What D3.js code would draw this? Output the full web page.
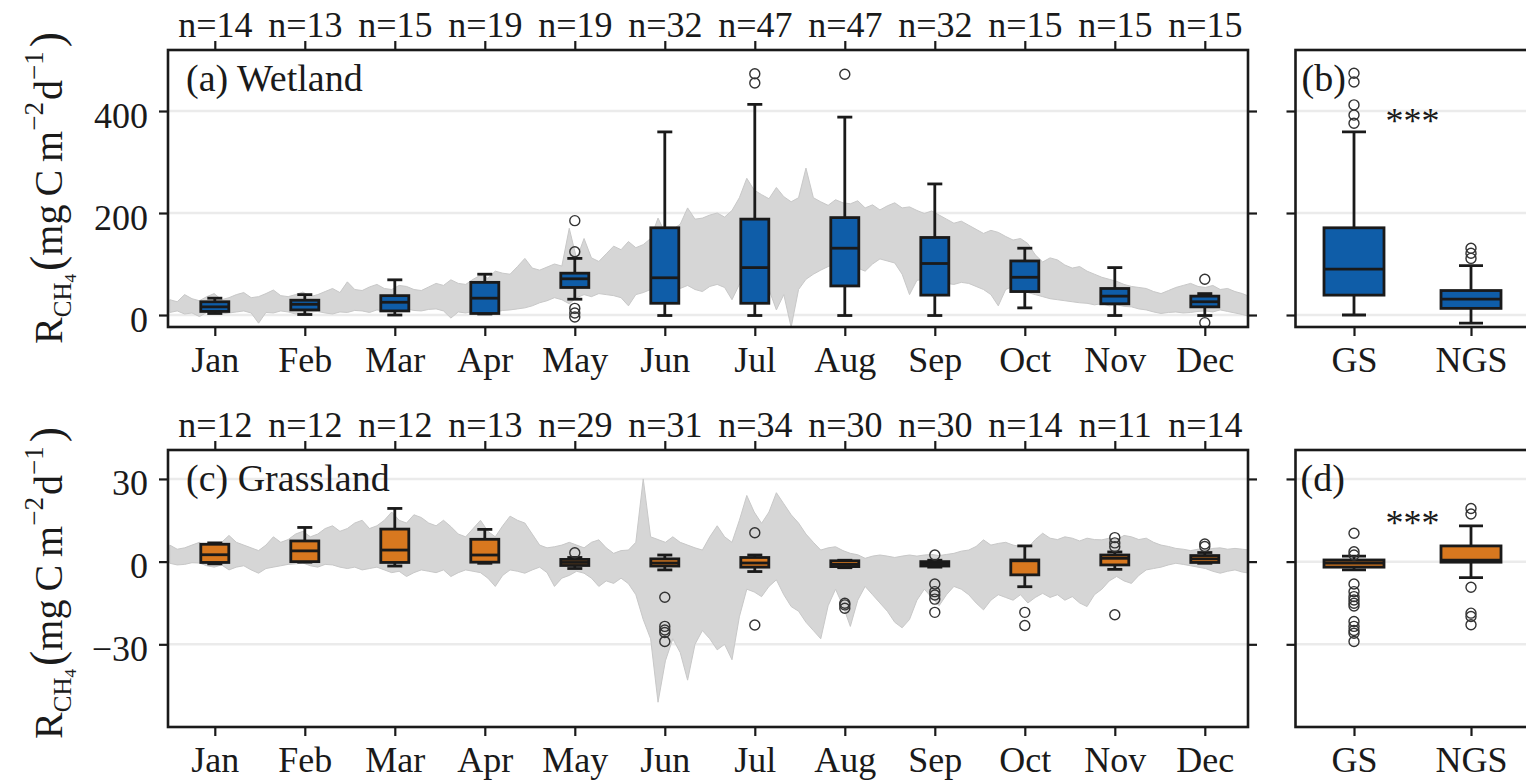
<!DOCTYPE html>
<html>
<head>
<meta charset="utf-8">
<script src="https://cdn.jsdelivr.net/npm/d3@7"></script>
<style>
  body { margin: 0; background: #fff; }
  text { font-family: "Liberation Serif", "DejaVu Serif", serif; fill: #1a1a1a; }
</style>
</head>
<body>
<svg id="fig" width="1526" height="781"></svg>
<script>
// ---- data ----
var months = ["Jan", "Feb", "Mar", "Apr", "May", "Jun", "Jul", "Aug", "Sep", "Oct", "Nov", "Dec"];
var seasons = ["GS", "NGS"];

var wetN = [14, 13, 15, 19, 19, 32, 47, 47, 32, 15, 15, 15];
var grassN = [12, 12, 12, 13, 29, 31, 34, 30, 30, 14, 11, 14];

// [whisker low, q1, median, q3, whisker high]
var wetStats = [
  [3, 7, 16, 26, 33], [1, 10, 21, 29, 40], [0, 8, 25, 38, 69], [2, 3, 33, 64, 80],
  [31, 54, 71, 82, 111], [-1, 23, 73, 171, 359], [-1, 23, 93, 188, 413], [-1, 57, 131, 191, 388],
  [-1, 39, 101, 152, 257], [14, 46, 74, 106, 131], [-1, 22, 37, 52, 93], [-1, 16, 26, 37, 42]
];
var wetFliers = [[], [], [], [], [185, 124, 13, 4, -4], [], [473, 455], [472], [], [], [], [70, -15]];

var grassStats = [
  [-0.8, -0.3, 2.5, 6.3, 6.8], [-0.2, 0, 3.9, 7.5, 12.4], [-1.6, -0.3, 4.2, 11.8, 19.3], [-0.6, -0.2, 2.4, 8.1, 11.7],
  [-2.5, -1.4, -0.3, 0.8, 1.5], [-3, -1.6, -0.5, 1, 2.4], [-3.6, -2, -0.5, 1.5, 2.4], [-2.2, -1.8, -1, 0.3, 0.5],
  [-2, -1.6, -0.8, 0, 0.5], [-9.1, -4.8, 0.3, 0.6, 5.7], [-2.8, -1.2, 1.2, 2.4, 3.5], [-0.6, -0.3, 1, 2.2, 3.3]
];
var grassFliers = [[], [], [], [], [3.2], [-12.9, -23.5, -24.8, -25.7, -29], [10.5, -23], [-15.1, -15.7, -16.9],
  [2.4, -8.1, -10.9, -12.1, -13.6, -18.4], [-18.4, -23.2], [8.7, 6.8, 5.4, -19.3], [6.4, 5.5]];

var wetSeasonStats = [[0, 39, 90, 171, 359], [-16, 13, 31, 48, 97]];
var wetSeasonFliers = [[474, 457, 412, 392, 376], [131, 121, 111]];
var grassSeasonStats = [[-3, -2, -0.5, 0.6, 2], [-5.8, -0.2, 0.5, 5.7, 13]];
var grassSeasonFliers = [[10.3, 3.6, 2.4, -8.1, -10.9, -12.7, -13.9, -15.1, -16.1, -21.7, -23.5, -25, -26, -29],
  [19.3, 17.3, -9.3, -18.7, -19.9, -22.9]];

// daily envelope (grey band), sampled by day of year
var bandDays = [0, 2.5, 5, 7.5, 10, 12.5, 15, 17.5, 20, 22.5, 25, 27.5, 30, 32.5, 35, 37.5, 40, 42.5, 45, 47.5,
  50, 52.5, 55, 57.5, 60, 62.5, 65, 67.5, 70, 72.5, 75, 77.5, 80, 82.5, 85, 87.5, 90, 92.5, 95, 97.5,
  100, 102.5, 105, 107.5, 110, 112.5, 115, 117.5, 120, 122.5, 125, 127.5, 130, 132.5, 135, 137.5, 140, 142.5, 145, 147.5,
  150, 152.5, 155, 157.5, 160, 162.5, 165, 167.5, 170, 172.5, 175, 177.5, 180, 182.5, 185, 187.5, 190, 192.5, 195, 197.5,
  200, 202.5, 205, 207.5, 210, 212.5, 215, 217.5, 220, 222.5, 225, 227.5, 230, 232.5, 235, 237.5, 240, 242.5, 245, 247.5,
  250, 252.5, 255, 257.5, 260, 262.5, 265, 267.5, 270, 272.5, 275, 277.5, 280, 282.5, 285, 287.5, 290, 292.5, 295, 297.5,
  300, 302.5, 305, 307.5, 310, 312.5, 315, 317.5, 320, 322.5, 325, 327.5, 330, 332.5, 335, 337.5, 340, 342.5, 345, 347.5,
  350, 352.5, 355, 357.5, 360, 362.5, 365];
var wetBandHi = [30, 26, 40, 32, 28, 36, 42, 30, 34, 40, 44, 34, 36, 42, 49, 38, 36, 40, 45, 36,
  40, 46, 52, 44, 65, 50, 48, 55, 60, 52, 50, 58, 56, 50, 48, 55, 62, 58, 69, 62,
  60, 70, 78, 72, 86, 82, 80, 95, 111, 92, 88, 94, 100, 96, 170, 110, 150, 112, 105, 120,
  135, 128, 144, 132, 138, 150, 190, 160, 168, 178, 210, 188, 190, 196, 200, 192, 205, 230, 268, 245,
  236, 228, 250, 232, 222, 230, 288, 230, 222, 215, 226, 220, 218, 224, 210, 216, 206, 214, 220, 210,
  212, 205, 199, 204, 196, 188, 180, 184, 176, 168, 160, 166, 162, 154, 147, 150, 140, 118, 104, 112,
  108, 98, 92, 95, 86, 80, 74, 70, 66, 60, 56, 54, 52, 46, 42, 48, 54, 58, 62, 56,
  54, 58, 50, 52, 46, 42, 36];
var wetBandLo = [5, 8, 2, 4, -3, 5, 6, 2, 4, 6, 8, 4, -16, 5, 4, 8, 6, 2, 3, 6,
  7, 4, 2, 6, 5, 9, 8, 5, 10, 8, 6, 10, 12, 9, 8, 11, 12, 8, -6, 6,
  4, 7, 8, 4, 6, 9, 10, 12, 14, 18, 24, 28, 34, 30, 22, 34, 40, 36, 42, 40,
  38, 34, 18, 40, 44, 50, 54, 48, 40, 52, 58, 50, 46, 56, 60, 54, 30, 60, 66, 62,
  60, 50, 10, 40, -24, 50, 70, 80, 88, 95, 100, 94, 90, 92, 86, 100, 110, 106, 102, 80,
  40, 68, 70, 64, 66, 62, 60, 64, 62, 56, 50, 40, 18, 50, 56, 48, 44, 40, 36, 32,
  30, 28, 26, 24, 23, 20, 22, 18, 20, 17, 16, 12, 10, 6, 3, 5, 6, 4, 5, 7,
  8, 6, 10, 7, 4, 1, -3];
var grassBandHi = [6, 4.5, 5, 6, 7, 4.5, 5, 7, 9.5, 7, 6, 5, 4, 6, 9, 7, 8, 10, 11, 9,
  10, 12, 13, 11, 12, 14, 15, 12, 13, 15, 18, 15, 14, 17, 16, 14, 13, 15, 12.7, 10,
  9, 12, 15, 11, 9, 13, 16.5, 15, 14, 10, 6, 5, 5.4, 6, 7, 6, 5, 7, 7.9, 5,
  3, 4, 4.2, 7, 30, 9, 8, 7, 9, 7, 6, 5, 4.2, 9, 13, 9, 7, 15, 24, 18,
  13.9, 18, 25, 21, 17, 14, 10, 7, 4.2, 5, 5.4, 4, 3, 2.5, 1.2, 2, 2.4, 2, 1.5, 2,
  2.4, 2, 2.4, 2.6, 2.2, 2.6, 3, 3.8, 4.2, 5.5, 7.9, 6, 6.6, 7, 6, 5.5, 5, 8, 10.3, 8.5,
  8, 9, 8.5, 7.5, 8.5, 8, 7.9, 8.5, 8, 9.5, 9, 8, 8.5, 7, 6, 5.5, 4.8, 4.5, 4, 4.5,
  4.2, 4.8, 5, 4.5, 4.8, 4.5, 4.2];
var grassBandLo = [-0.6, -1.2, -1, -0.4, -0.5, -1.5, -2, -1.2, -3, -2, -1.5, -3, -4.2, -2.5, -2, -1.5, -1, -0.8, -0.5, -1.5,
  -2, -1, -1.2, -2, -2.5, -2, -3, -2.5, -2, -3, -4, -3.5, -5.4, -4, -3, -3.5, -4, -3, -5.4, -4,
  -3, -3.5, -4, -6, -9, -5, -3, -3.5, -4.2, -3, -2, -4, -9, -6, -5, -3.5, -4.2, -6, -9, -7,
  -7.9, -6, -8, -12, -21, -28, -51, -36, -28, -33, -43, -30, -25, -28, -32, -30, -35.6, -20, -10, -11,
  -12.7, -9, -6.6, -12, -16.3, -18, -22, -25, -28, -16, -10, -16, -23.5, -14, -9, -12, -15, -18, -22, -24,
  -21, -14, -10, -13, -16, -12, -9, -10, -12, -15, -17.5, -14, -12, -13, -14, -12, -15, -13, -11.5, -13,
  -12, -14, -12.7, -15, -16.3, -12, -10, -7, -5.4, -7, -7.9, -5, -3, -2.5, -2, -1.2, -0.6, -1, -1.5, -2,
  -2.5, -3.5, -4.2, -3.5, -3, -3.8, -4.2];

var wetTicks = [0, 200, 400];
var grassTicks = [-30, 0, 30];

var BLUE = "#0f5da8", ORANGE = "#d8781f", INK = "#1a1a1a";

var svg = d3.select("#fig");
var clipId = 0;

function drawPanel(p) {
  var x = p.x, y = p.y;
  var x0 = x.range()[0], x1 = x.range()[1];
  var top = y.range()[1], bottom = y.range()[0];
  var g = svg.append("g");

  clipId++;
  svg.append("clipPath").attr("id", "clip" + clipId)
    .append("rect").attr("x", x0).attr("y", top).attr("width", x1 - x0).attr("height", bottom - top);
  var inner = g.append("g").attr("clip-path", "url(#clip" + clipId + ")");

  // light grid lines
  inner.selectAll("line.grid").data(p.yTicks).enter().append("line")
    .attr("x1", x0).attr("x2", x1)
    .attr("y1", function(d) { return y(d); }).attr("y2", function(d) { return y(d); })
    .attr("stroke", "#ebebeb").attr("stroke-width", 2.5);

  // grey daily envelope
  if (p.bandLo) {
    var band = bandDays.map(function(d, i) { return { day: d, lo: p.bandLo[i], hi: p.bandHi[i] }; });
    var area = d3.area()
      .x(function(d) { return x(0.5 + d.day / 365 * 12); })
      .y0(function(d) { return y(d.lo); })
      .y1(function(d) { return y(d.hi); });
    inner.append("path").datum(band).attr("d", area)
      .attr("fill", "#d6d6d6").attr("stroke", "#c8c8c8").attr("stroke-width", 1);
  }

  // box plots
  p.stats.forEach(function(s, i) {
    var cx = x(i + 1), bw = p.boxW, cw = p.capW;
    var b = inner.append("g");
    b.append("line").attr("x1", cx).attr("x2", cx).attr("y1", y(s[0])).attr("y2", y(s[1]))
      .attr("stroke", INK).attr("stroke-width", 2.8);
    b.append("line").attr("x1", cx).attr("x2", cx).attr("y1", y(s[3])).attr("y2", y(s[4]))
      .attr("stroke", INK).attr("stroke-width", 2.8);
    [s[0], s[4]].forEach(function(v) {
      b.append("line").attr("x1", cx - cw / 2).attr("x2", cx + cw / 2).attr("y1", y(v)).attr("y2", y(v))
        .attr("stroke", INK).attr("stroke-width", 2.8);
    });
    b.append("rect").attr("x", cx - bw / 2).attr("width", bw)
      .attr("y", y(s[3])).attr("height", Math.max(0.5, y(s[1]) - y(s[3])))
      .attr("fill", p.color).attr("stroke", INK).attr("stroke-width", 2.8);
    b.append("line").attr("x1", cx - bw / 2).attr("x2", cx + bw / 2).attr("y1", y(s[2])).attr("y2", y(s[2]))
      .attr("stroke", INK).attr("stroke-width", 2.8);
    b.selectAll("circle").data(p.fliers[i]).enter().append("circle")
      .attr("cx", cx).attr("cy", function(v) { return y(v); }).attr("r", 5)
      .attr("fill", "none").attr("stroke", "#333").attr("stroke-width", 1.4);
  });

  // axes
  var cats = p.cats.map(function(c, i) { return i + 1; });
  var bot = g.append("g").attr("transform", "translate(0," + bottom + ")")
    .call(d3.axisBottom(x).tickValues(cats).tickSize(9).tickPadding(10)
      .tickFormat(function(d) { return p.cats[d - 1]; }));
  var left = g.append("g").attr("transform", "translate(" + x0 + ",0)")
    .call(d3.axisLeft(y).tickValues(p.yTicks).tickSize(9).tickPadding(11)
      .tickFormat(p.yLabels ? function(d) { return d < 0 ? "\u2212" + Math.abs(d) : d; } : ""));
  var axes = [bot, left];
  if (p.nTop) {
    axes.push(g.append("g").attr("transform", "translate(0," + top + ")")
      .call(d3.axisTop(x).tickValues(cats).tickSize(9).tickPadding(4)
        .tickFormat(function(d) { return "n=" + p.nTop[d - 1]; })));
    axes.push(g.append("g").attr("transform", "translate(" + x1 + ",0)")
      .call(d3.axisRight(y).tickValues(p.yTicks).tickSize(9).tickFormat("")));
  }
  axes.forEach(function(a) {
    a.select(".domain").remove();
    a.selectAll(".tick line").attr("stroke", INK).attr("stroke-width", 2.2);
    a.selectAll(".tick text").attr("fill", INK).style("font-size", "36px")
      .style("font-family", "'Liberation Serif', 'DejaVu Serif', serif");
  });
  left.selectAll(".tick text").attr("dy", "16px");

  // frame
  g.append("rect").attr("x", x0).attr("y", top).attr("width", x1 - x0).attr("height", bottom - top)
    .attr("fill", "none").attr("stroke", INK).attr("stroke-width", 2.6);

  if (p.label) {
    g.append("text").attr("x", x0 + p.labelDx).attr("y", top + 41).style("font-size", "38px").text(p.label);
  }
  if (p.stars) {
    g.append("text").attr("x", (x(1) + x(2)) / 2).attr("y", p.stars).attr("text-anchor", "middle")
      .style("font-size", "36px").text("***");
  }
}

function yTitle(cx, cy) {
  var t = svg.append("text").attr("transform", "translate(" + cx + "," + cy + ") rotate(-90)")
    .attr("text-anchor", "middle").style("font-size", "40px");
  t.append("tspan").text("R");
  t.append("tspan").attr("dy", 9).style("font-size", "25px").text("CH");
  t.append("tspan").attr("dy", 5).style("font-size", "17px").text("4");
  t.append("tspan").attr("dy", -14).attr("dx", 3).style("font-size", "46px").text("(");
  t.append("tspan").text("mg\u2009C\u2009m");
  t.append("tspan").attr("dy", -19).style("font-size", "27px").text("\u22122");
  t.append("tspan").attr("dy", 19).attr("dx", 2).text("d");
  t.append("tspan").attr("dy", -19).style("font-size", "27px").text("\u22121");
  t.append("tspan").attr("dy", 19).attr("dx", 4).style("font-size", "46px").text(")");
}

var xMonth = d3.scaleLinear().domain([0.48, 12.48]).range([168, 1248]);
var xSeason = d3.scaleLinear().domain([0.5, 2.5]).range([1295.5, 1529.5]);
var yWet = d3.scaleLinear().domain([-23.5, 519.6]).range([327, 50]);
var yGrass = d3.scaleLinear().domain([-60, 40.5]).range([727, 450]);

drawPanel({ x: xMonth, y: yWet, cats: months, nTop: wetN, stats: wetStats, fliers: wetFliers,
  bandLo: wetBandLo, bandHi: wetBandHi, color: BLUE, boxW: 28, capW: 15,
  yTicks: wetTicks, yLabels: true, label: "(a) Wetland", labelDx: 18 });
drawPanel({ x: xSeason, y: yWet, cats: seasons, stats: wetSeasonStats, fliers: wetSeasonFliers,
  color: BLUE, boxW: 60, capW: 24, yTicks: wetTicks, yLabels: false, label: "(b)", labelDx: 6, stars: 133 });
drawPanel({ x: xMonth, y: yGrass, cats: months, nTop: grassN, stats: grassStats, fliers: grassFliers,
  bandLo: grassBandLo, bandHi: grassBandHi, color: ORANGE, boxW: 28, capW: 15,
  yTicks: grassTicks, yLabels: true, label: "(c) Grassland", labelDx: 18 });
drawPanel({ x: xSeason, y: yGrass, cats: seasons, stats: grassSeasonStats, fliers: grassSeasonFliers,
  color: ORANGE, boxW: 60, capW: 24, yTicks: grassTicks, yLabels: false, label: "(d)", labelDx: 5, stars: 535 });

yTitle(62, 188);
yTitle(62, 583);
</script>
</body>
</html>
